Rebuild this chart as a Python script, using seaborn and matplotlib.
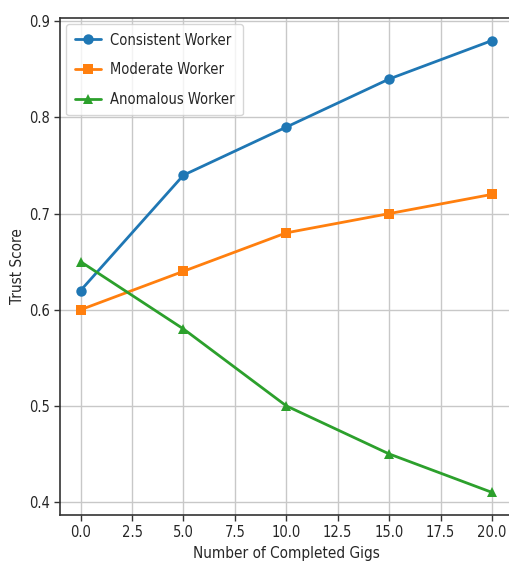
import matplotlib
matplotlib.use("Agg")
import matplotlib.pyplot as plt
import seaborn as sns
import pandas as pd

gigs = [0, 5, 10, 15, 20]
consistent = [0.62, 0.74, 0.79, 0.84, 0.88]
moderate = [0.60, 0.64, 0.68, 0.70, 0.72]
anomalous = [0.65, 0.58, 0.50, 0.45, 0.41]
series_names = ["Consistent Worker", "Moderate Worker", "Anomalous Worker"]

rows = []
for name, vals in zip(series_names, [consistent, moderate, anomalous]):
    for g, v in zip(gigs, vals):
        rows.append({"Gigs": g, "Trust": v, "Worker": name})
df = pd.DataFrame(rows)

sns.set_style("white")
plt.rcParams['font.family'] = ['DejaVu Sans']
plt.rcParams['font.stretch'] = 'condensed'

fig = plt.figure(figsize=(5.09, 5.70), dpi=100)
ax = fig.add_axes([0.118, 0.0965, 0.889, 0.872])

palette = {"Consistent Worker": "#1f77b4", "Moderate Worker": "#ff7f0e", "Anomalous Worker": "#2ca02c"}
markers = {"Consistent Worker": "o", "Moderate Worker": "s", "Anomalous Worker": "^"}
sns.lineplot(data=df, x="Gigs", y="Trust", hue="Worker", style="Worker",
             palette=palette, markers=markers, dashes=False, linewidth=2,
             markersize=7.5, markeredgewidth=0, ax=ax)

ax.grid(True, color="#c8c8c8", linewidth=1.0)
ax.set_axisbelow(True)
ax.set_xticks([0, 2.5, 5, 7.5, 10, 12.5, 15, 17.5, 20])
ax.set_xticklabels(["0.0", "2.5", "5.0", "7.5", "10.0", "12.5", "15.0", "17.5", "20.0"])
ax.set_yticks([0.4, 0.5, 0.6, 0.7, 0.8, 0.9])
ax.set_xlim(-1, 21)
ax.set_ylim(0.3865, 0.9035)
ax.tick_params(labelsize=10.5, length=4, width=1, color="#333333", left=True, bottom=True)
ax.set_xlabel("Number of Completed Gigs", fontsize=11)
ax.set_ylabel("Trust Score", fontsize=11, labelpad=3)
for s in ax.spines.values():
    s.set_visible(True)
    s.set_color("#333333")
    s.set_linewidth(1.2)
leg = ax.legend(loc="upper left", fontsize=10.5, title=None, frameon=True,
                labelspacing=1.0, handlelength=1.8, borderpad=0.6,
                handletextpad=0.6, borderaxespad=0.4)

fig.savefig("out.png", dpi=100)
